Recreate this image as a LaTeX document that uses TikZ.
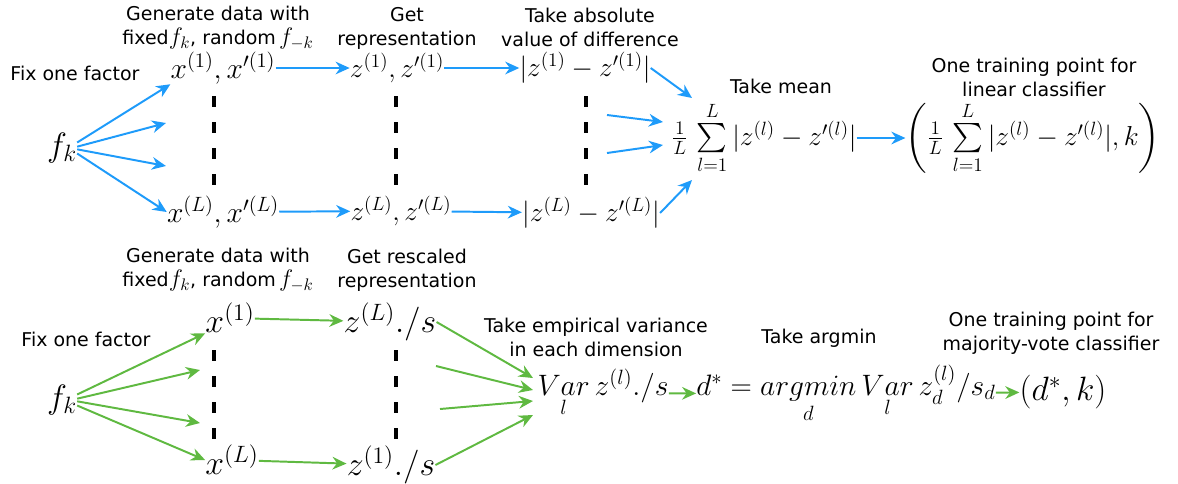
\RequirePackage{fix-cm}
\documentclass[tikz,border=0pt]{standalone}
\usepackage{exscale}
\usepackage[no-math]{fontspec}
\setmainfont{DejaVu Sans}
\usetikzlibrary{arrows.meta}
\definecolor{pathblue}{RGB}{30,155,250}
\definecolor{pathgreen}{RGB}{95,185,65}
\newcommand{\lblmath}[1]{{\fontsize{17}{17}\selectfont$#1$}}

\begin{document}
\begin{tikzpicture}[x=0.025cm, y=-0.025cm, lbl/.style={align=center, inner sep=0pt, font=\fontsize{13.5}{17}\selectfont}, expr/.style={inner sep=0pt, font=\fontsize{19.5}{22}\selectfont}, bigexpr/.style={inner sep=0pt, font=\fontsize{21}{24}\selectfont}, hugeexpr/.style={inner sep=0pt, font=\fontsize{24}{28}\selectfont}, sepline/.style={line width=2.8pt, dash pattern=on 8pt off 10.5pt}, arrb/.style={-{Stealth[length=10pt, width=9pt]}, line width=1.4pt, pathblue}, arrg/.style={-{Stealth[length=10pt, width=9pt]}, line width=1.4pt, pathgreen}]
    \useasboundingbox (0,0) rectangle (1178,483);

    % linear classifier
    \node[lbl] (fixa) at (75,73) {Fix one factor};
    \node[lbl] (gena) at (218,28) {Generate data with\\fixed\lblmath{f_k}, random\,\lblmath{f_{-k}}};
    \node[lbl] (repa) at (407,28) {Get\\representation};
    \node[lbl] (absa) at (590,27) {Take absolute\\value of difference};
    \node[lbl] (meanlbl) at (781,86) {Take mean};
    \node[lbl] (pointa) at (1034,77) {One training point for\\linear classifier};

    \node[hugeexpr] (fka) at (62,148) {$f_k$};
    \node[bigexpr] (xa1) at (223,68) {$x^{(1)}, x'^{(1)}$};
    \node[bigexpr] (xaL) at (223,212) {$x^{(L)}, x'^{(L)}$};
    \node[expr] (za1) at (397,68) {$z^{(1)}, z'^{(1)}$};
    \node[expr] (zaL) at (401,211) {$z^{(L)}, z'^{(L)}$};
    \node[expr] (da1) at (585,68) {$|z^{(1)} - z'^{(1)}|$};
    \node[expr] (daL) at (591,213) {$|z^{(L)} - z'^{(L)}|$};
    \node[expr] (mean) at (764,138) {$\frac{1}{L}\,\sum\limits_{l=1}^{L}|z^{(l)} - z'^{(l)}|$};
    \node[expr] (pta) at (1033,138) {$\left(\frac{1}{L}\,\sum\limits_{l=1}^{L}|z^{(l)} - z'^{(l)}|, k\right)$};

    \coordinate (fa2) at (166,123);
    \coordinate (fa3) at (166,166);
    \coordinate (ma2) at (607,115);
    \coordinate (ma3) at (607,153);
    \coordinate (ta1) at (692,98);
    \coordinate (ta2) at (663,122);
    \coordinate (ta3) at (663,145);
    \coordinate (ta4) at (692,180);

    \draw[arrb] (fka.20) -- (xa1.south west);
    \draw[arrb] (fka.5) -- (fa2);
    \draw[arrb] (fka.-5) -- (fa3);
    \draw[arrb] (fka.-20) -- (xaL.west);
    \draw[arrb] (xa1) -- (za1);
    \draw[arrb] (xaL) -- (zaL);
    \draw[arrb] (za1) -- (da1);
    \draw[arrb] (zaL) -- (daL);
    \draw[arrb] (da1.east) -- (ta1);
    \draw[arrb] (ma2) -- (ta2);
    \draw[arrb] (ma3) -- (ta3);
    \draw[arrb] (daL.east) -- (ta4);
    \draw[arrb] (mean) -- (pta);

    \draw[sepline] (214,96) -- (214,188);
    \draw[sepline] (396,96) -- (396,188);
    \draw[sepline] (586,96) -- (586,188);

    % majority-vote classifier
    \node[lbl] (fixb) at (86,339) {Fix one factor};
    \node[lbl] (genb) at (218,270) {Generate data with\\fixed\lblmath{f_k}, random\,\lblmath{f_{-k}}};
    \node[lbl] (repb) at (407,270) {Get rescaled\\representation};
    \node[lbl] (varlbl) at (596,337) {Take empirical variance\\in each dimension};
    \node[lbl] (arglbl) at (819,338) {Take argmin};
    \node[lbl] (pointb) at (1051,333) {One training point for\\majority-vote classifier};

    \node[hugeexpr] (fkb) at (62,400) {$f_k$};
    \node[hugeexpr] (xb1) at (230,318) {$x^{(1)}$};
    \node[hugeexpr] (xbL) at (232,460) {$x^{(L)}$};
    \node[hugeexpr] (zb1) at (390,322) {$z^{(L)}./s$};
    \node[hugeexpr] (zbL) at (391,465) {$z^{(1)}./s$};
    \node[bigexpr] (var) at (603,393) {$\mathop{Var}\limits_{l} z^{(l)}./s$};
    \node[bigexpr] (argm) at (846,394) {$d^* = \mathop{argmin}\limits_{d} \mathop{Var}\limits_{l} z_d^{(l)}/s_d$};
    \node[hugeexpr] (ptb) at (1063,392) {$(d^*, k)$};

    \coordinate (fb2) at (200,370);
    \coordinate (fb3) at (200,423);
    \coordinate (mb2) at (436,366);
    \coordinate (mb3) at (440,409);
    \coordinate (tb1) at (533,378);
    \coordinate (tb2) at (533,390);
    \coordinate (tb3) at (533,401);
    \coordinate (tb4) at (533,415);

    \draw[arrg] (fkb.20) -- (xb1.south west);
    \draw[arrg] (fkb.5) -- (fb2);
    \draw[arrg] (fkb.-5) -- (fb3);
    \draw[arrg] (fkb.-20) -- (xbL.west);
    \draw[arrg] (xb1) -- (zb1);
    \draw[arrg] (xbL) -- (zbL);
    \draw[arrg] (zb1.east) -- (tb1);
    \draw[arrg] (mb2) -- (tb2);
    \draw[arrg] (mb3) -- (tb3);
    \draw[arrg] (zbL.east) -- (tb4);
    \draw[arrg] (var) -- (argm);
    \draw[arrg] (argm) -- (ptb);

    \draw[sepline] (214,350) -- (214,445);
    \draw[sepline] (396,350) -- (396,445);
  \end{tikzpicture}
\end{document}
